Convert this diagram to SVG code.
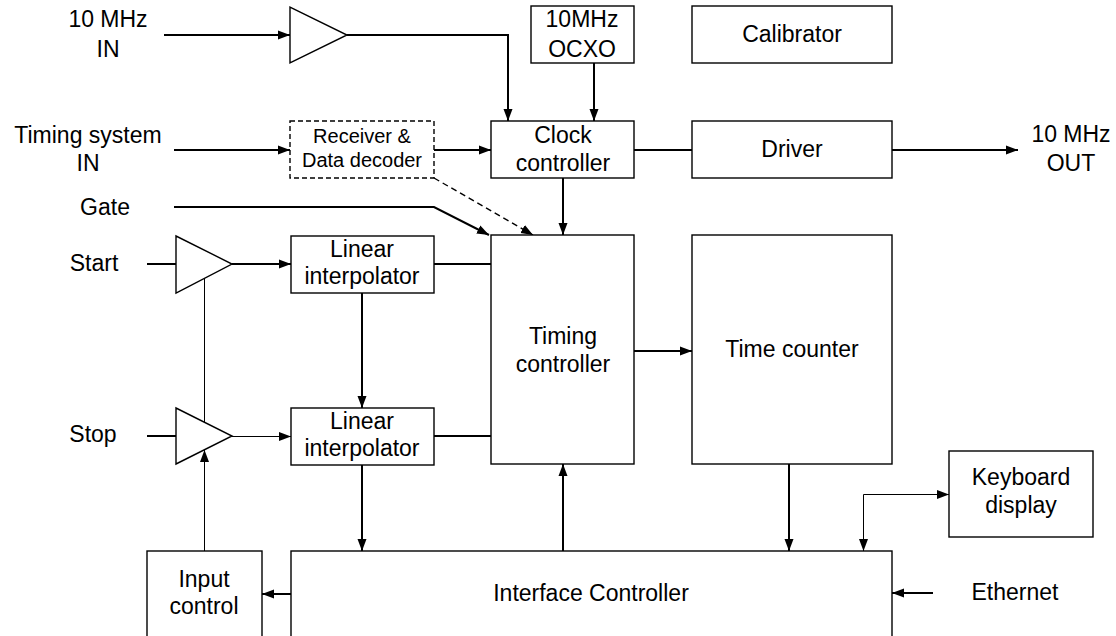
<svg xmlns="http://www.w3.org/2000/svg" width="1116" height="636" viewBox="0 0 1116 636">
<style>
.box{fill:#fff;stroke:#000;stroke-width:1.4}
.dash{fill:#fff;stroke:#000;stroke-width:1.4;stroke-dasharray:5,3}
.t{font-family:"Liberation Sans",Arial,sans-serif;font-size:23px;fill:#000;text-anchor:middle}
.s{font-family:"Liberation Sans",Arial,sans-serif;font-size:20px;fill:#000;text-anchor:middle}
.c{fill:none;stroke:#000;stroke-width:2}
.thin{fill:none;stroke:#000;stroke-width:1}
.cd{fill:none;stroke:#000;stroke-width:1.4;stroke-dasharray:6,4}
</style>
<defs>
<marker id="ah" markerUnits="userSpaceOnUse" markerWidth="12" markerHeight="10" refX="12" refY="5" orient="auto">
<path d="M0,0.5 L12,5 L0,9.5 z" fill="#000"/>
</marker>
<marker id="ahs" markerUnits="userSpaceOnUse" markerWidth="12" markerHeight="10" refX="0" refY="5" orient="auto">
<path d="M12,0.5 L0,5 L12,9.5 z" fill="#000"/>
</marker>
</defs>
<rect width="1116" height="636" fill="#fff"/>

<g id="connectors">
<path class="c" d="M164,35 H290" marker-end="url(#ah)"/>
<path class="c" d="M347,35 H508 V121" marker-end="url(#ah)"/>
<path class="c" d="M594,63 V121" marker-end="url(#ah)"/>
<path class="c" d="M174,150 H290" marker-end="url(#ah)"/>
<path class="c" d="M434,150 H491" marker-end="url(#ah)"/>
<path class="c" d="M634,150 H692"/>
<path class="c" d="M892,150 H1018" marker-end="url(#ah)"/>
<path class="c" d="M174,207 H434 L489,235" marker-end="url(#ah)"/>
<path class="cd" d="M434,178 L533,235" marker-end="url(#ah)"/>
<path class="c" d="M563,178 V235" marker-end="url(#ah)"/>
<path class="c" d="M147,264 H176"/>
<path class="c" d="M232,264 H291" marker-end="url(#ah)"/>
<path class="c" d="M147,436 H176"/>
<path class="thin" d="M232,436.5 H291" marker-end="url(#ah)"/>
<path class="thin" d="M204.5,278 V422"/>
<path class="thin" d="M204.5,551 V450" marker-end="url(#ah)"/>
<path class="c" d="M434,264 H491"/>
<path class="c" d="M434,436 H491"/>
<path class="c" d="M362,293 V408" marker-end="url(#ah)"/>
<path class="c" d="M362,465 V551" marker-end="url(#ah)"/>
<path class="c" d="M634,351 H692" marker-end="url(#ah)"/>
<path class="c" d="M563,551 V464" marker-end="url(#ah)"/>
<path class="c" d="M789,464 V551" marker-end="url(#ah)"/>
<path class="thin" d="M863.5,551 V494.5 H949" marker-start="url(#ahs)" marker-end="url(#ah)"/>
<path class="c" d="M933,593 H892" marker-end="url(#ah)"/>
<path class="c" d="M291,594 H262" marker-end="url(#ah)"/>
</g>

<g id="in10">
<text class="t" x="108" y="27">10 MHz</text>
<text class="t" x="108" y="57">IN</text>
</g>
<g id="amp10">
<polygon class="box" points="290,7 290,63 347,35"/>
</g>
<g id="ocxo">
<rect class="box" x="531" y="6" width="103" height="57"/>
<text class="t" x="582" y="27">10MHz</text>
<text class="t" x="582" y="57">OCXO</text>
</g>
<g id="calibrator">
<rect class="box" x="692" y="6" width="200" height="57"/>
<text class="t" x="792" y="42">Calibrator</text>
</g>
<g id="timing-in">
<text class="t" x="88" y="143">Timing system</text>
<text class="t" x="88" y="171">IN</text>
</g>
<g id="receiver">
<rect class="dash" x="290" y="121" width="144" height="57"/>
<text class="s" x="362" y="143">Receiver &amp;</text>
<text class="s" x="362" y="167">Data decoder</text>
</g>
<g id="clock">
<rect class="box" x="491" y="121" width="143" height="57"/>
<text class="t" x="563" y="143">Clock</text>
<text class="t" x="563" y="171">controller</text>
</g>
<g id="driver">
<rect class="box" x="692" y="121" width="200" height="57"/>
<text class="t" x="792" y="157">Driver</text>
</g>
<g id="out10">
<text class="t" x="1071" y="142">10 MHz</text>
<text class="t" x="1071" y="171">OUT</text>
</g>
<g id="gate">
<text class="t" x="105" y="215">Gate</text>
</g>
<g id="start">
<text class="t" x="94" y="271">Start</text>
</g>
<g id="amp-start">
<polygon class="box" points="176,236 176,293 232,264"/>
</g>
<g id="stop">
<text class="t" x="93" y="442">Stop</text>
</g>
<g id="amp-stop">
<polygon class="box" points="176,408 176,464 232,436"/>
</g>
<g id="interp1">
<rect class="box" x="291" y="236" width="143" height="57"/>
<text class="t" x="362" y="257">Linear</text>
<text class="t" x="362" y="284">interpolator</text>
</g>
<g id="interp2">
<rect class="box" x="291" y="408" width="143" height="57"/>
<text class="t" x="362" y="429">Linear</text>
<text class="t" x="362" y="456">interpolator</text>
</g>
<g id="timing-controller">
<rect class="box" x="491" y="235" width="143" height="229"/>
<text class="t" x="563" y="344">Timing</text>
<text class="t" x="563" y="372">controller</text>
</g>
<g id="time-counter">
<rect class="box" x="692" y="235" width="200" height="229"/>
<text class="t" x="792" y="357">Time counter</text>
</g>
<g id="keyboard">
<rect class="box" x="949" y="451" width="144" height="86"/>
<text class="t" x="1021" y="485">Keyboard</text>
<text class="t" x="1021" y="513">display</text>
</g>
<g id="input-control">
<rect class="box" x="147" y="551" width="115" height="100"/>
<text class="t" x="204" y="587">Input</text>
<text class="t" x="204" y="614">control</text>
</g>
<g id="interface">
<rect class="box" x="291" y="551" width="601" height="100"/>
<text class="t" x="591" y="601">Interface Controller</text>
</g>
<g id="ethernet">
<text class="t" x="1015" y="600">Ethernet</text>
</g>
</svg>
